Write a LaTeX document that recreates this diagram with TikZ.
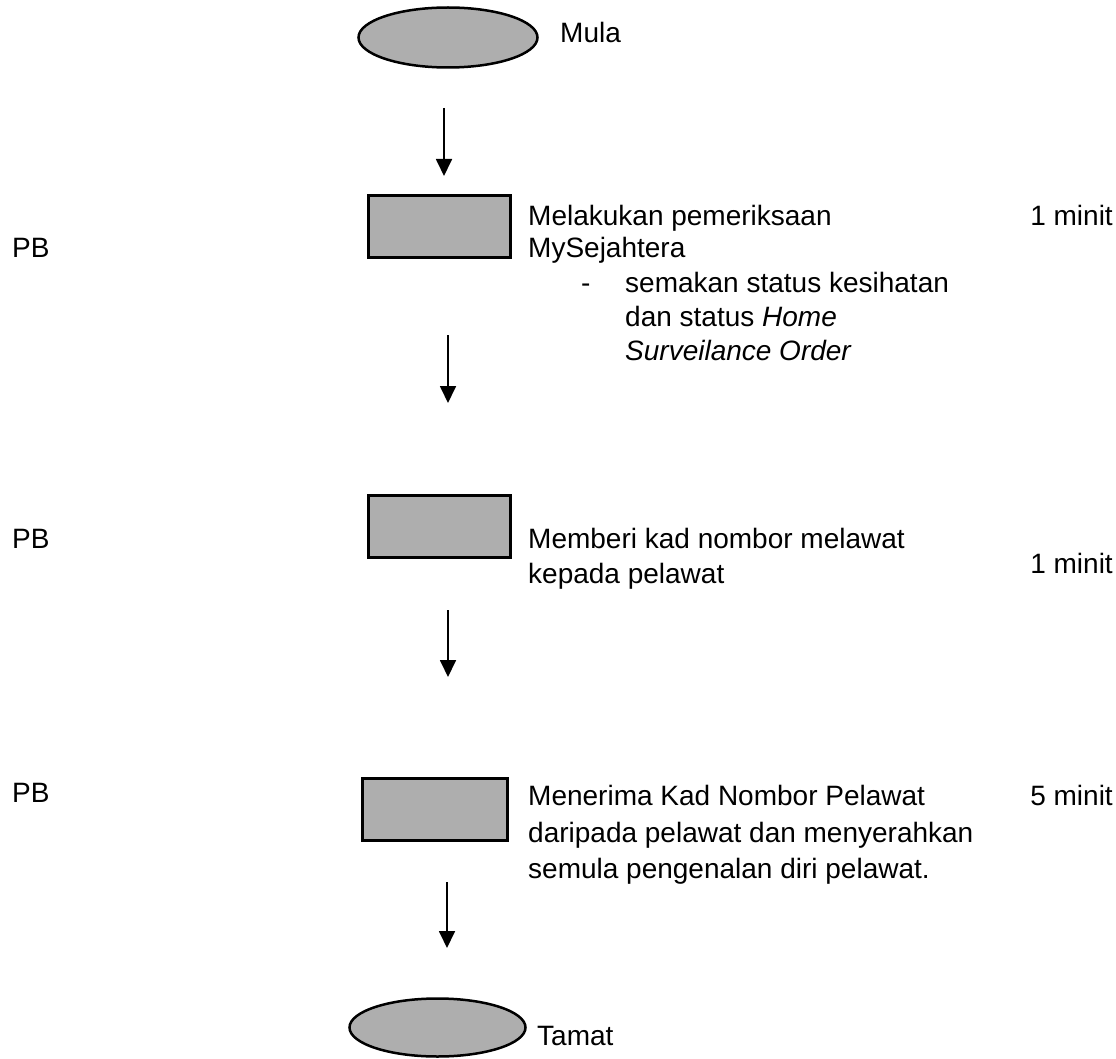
\documentclass[tikz,border=0pt]{standalone}
\usepackage{fontspec}
\setmainfont{Liberation Sans}
\usetikzlibrary{arrows.meta,shapes.geometric}
\definecolor{shapegray}{RGB}{174,174,174}

\begin{document}
\begin{tikzpicture}[x=1pt, y=-1pt,
    every node/.style={font=\fontsize{28}{34}\selectfont, inner sep=0pt},
    terminal/.style={ellipse, draw=black, line width=2.5pt, fill=shapegray},
    process/.style={rectangle, draw=black, line width=2.7pt, fill=shapegray,
        minimum width=142, minimum height=62},
    flow/.style={-{Triangle[length=17pt,width=16pt]}, line width=1.8pt},
    line/.style={anchor=base west},
    time/.style={anchor=base east}]
\useasboundingbox (0,0) rectangle (1116,1059);

% Start and end
\node[terminal, minimum width=179, minimum height=60] (Mula) at (448,37.5) {};
\node[line] (Mula-text) at (560,43) {Mula};
\node[terminal, minimum width=176, minimum height=58] (Tamat) at (437.5,1027.5) {};
\node[line] (Tamat-text) at (537,1045) {Tamat};

% Process boxes
\node[process] (Step-1) at (439.5,226.5) {};
\node[process] (Step-2) at (439.5,526.5) {};
\node[process, minimum width=145] (Step-3) at (435,809.5) {};

% Step 1
\node[line] (Step-1-a) at (528,226) {Melakukan pemeriksaan};
\node[line] (Step-1-b) at (528,258) {MySejahtera};
\node[line] (Step-1-dash) at (581,292) {-};
\node[line] (Step-1-c) at (625,292) {semakan status kesihatan};
\node[line] (Step-1-d) at (625,326) {dan status \textit{Home}};
\node[line] (Step-1-e) at (625,360) {\textit{Surveilance Order}};
\node[time] (Time-1) at (1113,226) {1 minit};

% Step 2
\node[line] (Step-2-a) at (528,548) {Memberi kad nombor melawat};
\node[line] (Step-2-b) at (528,583) {kepada pelawat};
\node[time] (Time-2) at (1113,573) {1 minit};

% Step 3
\node[line] (Step-3-a) at (528,805) {Menerima Kad Nombor Pelawat};
\node[line] (Step-3-b) at (528,842) {daripada pelawat dan menyerahkan};
\node[line] (Step-3-c) at (528,878) {semula pengenalan diri pelawat.};
\node[time] (Time-3) at (1113,805) {5 minit};

% Who does it
\foreach \i/\y in {1/258, 2/548, 3/802}
{
    \node[line] (PB-\i) at (12,\y) {PB};
}

% Arrows
\foreach \i/\x/\ya/\yb in {1/444/108/176, 2/448/335/403, 3/448/610/677, 4/447/882/948}
{
    \coordinate (Arrow-\i-top) at (\x,\ya);
    \coordinate (Arrow-\i-tip) at (\x,\yb);
    \draw[flow] (Arrow-\i-top) -- (Arrow-\i-tip);
}

\end{tikzpicture}
\end{document}
